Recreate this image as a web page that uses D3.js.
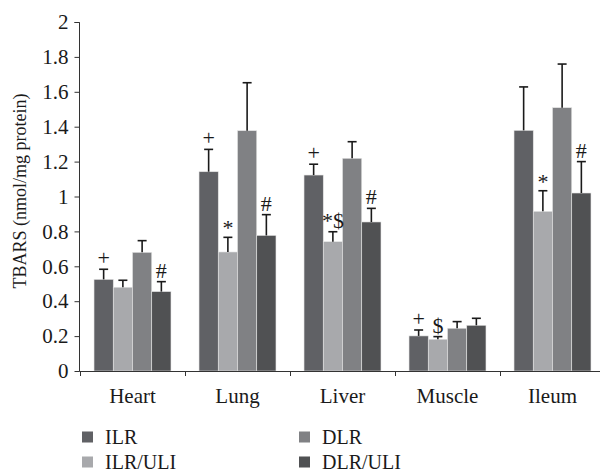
<!DOCTYPE html>
<html><head><meta charset="utf-8">
<script src="https://cdn.jsdelivr.net/npm/d3@7"></script>
<style>body{margin:0;background:#fff;} text{font-family:"Liberation Serif","DejaVu Serif",serif;fill:#1a1a1a;}</style>
</head><body>
<svg id="chart" width="600" height="475"></svg>
<script>
const categories = ["Heart","Lung","Liver","Muscle","Ileum"];
const series = ["ILR","ILR/ULI","DLR","DLR/ULI"];
const ilr      = [0.525, 1.142, 1.123, 0.201, 1.379];
const ilrUli   = [0.480, 0.682, 0.741, 0.182, 0.915];
const dlr      = [0.680, 1.377, 1.219, 0.245, 1.509];
const dlrUli   = [0.455, 0.777, 0.854, 0.262, 1.020];
const ilrErr    = [0.058, 0.128, 0.062, 0.034, 0.249];
const ilrUliErr = [0.040, 0.084, 0.057, 0.015, 0.118];
const dlrErr    = [0.067, 0.275, 0.095, 0.038, 0.250];
const dlrUliErr = [0.057, 0.119, 0.078, 0.040, 0.180];
const ilrMark    = ["+","+","+","+",""];
const ilrUliMark = ["","*","*$","$","*"];
const dlrMark    = ["","","","",""];
const dlrUliMark = ["#","#","#","","#"];
const yTicks = [0,0.2,0.4,0.6,0.8,1,1.2,1.4,1.6,1.8,2];
const yTickLabels = ["0","0.2","0.4","0.6","0.8","1","1.2","1.4","1.6","1.8","2"];
const yLabel = "TBARS (nmol/mg protein)";
const colors = ["#606165","#a8a9ac","#808184","#505153"];

const values = [ilr, ilrUli, dlr, dlrUli];
const errs = [ilrErr, ilrUliErr, dlrErr, dlrUliErr];
const marks = [ilrMark, ilrUliMark, dlrMark, dlrUliMark];

const svg = d3.select("#chart");
const x0 = d3.scaleBand().domain(categories).range([80,605]).paddingInner(0.267).paddingOuter(0.1335);
const x1 = d3.scaleBand().domain(series).range([0, x0.bandwidth()]);
const y = d3.scaleLinear().domain([0,2]).range([371,22]);
const color = d3.scaleOrdinal().domain(series).range(colors);

const data = [];
categories.forEach((c,i)=>series.forEach((s,j)=>data.push({c,s,v:values[j][i],e:errs[j][i],m:marks[j][i]})));

// bars
svg.append("g").selectAll("rect").data(data).join("rect")
  .attr("x", d=>x0(d.c)+x1(d.s))
  .attr("y", d=>y(d.v))
  .attr("width", x1.bandwidth())
  .attr("height", d=>y(0)-y(d.v))
  .attr("fill", d=>color(d.s))
  .attr("stroke","#e4e4e4").attr("stroke-width",0.6);

// error bars
const eg = svg.append("g").attr("stroke","#1a1a1a").attr("stroke-width",1.6);
data.forEach(d=>{
  const cx = x0(d.c)+x1(d.s)+x1.bandwidth()/2;
  eg.append("line").attr("x1",cx).attr("x2",cx).attr("y1",y(d.v)).attr("y2",y(d.v+d.e));
  eg.append("line").attr("x1",cx-4.5).attr("x2",cx+4.5).attr("y1",y(d.v+d.e)).attr("y2",y(d.v+d.e));
});

// significance marks
svg.append("g").selectAll("text").data(data.filter(d=>d.m)).join("text")
  .attr("x", d=>x0(d.c)+x1(d.s)+x1.bandwidth()/2)
  .attr("y", d=>y(d.v+d.e)-(d.m.includes("*")&&!d.m.includes("$")?2:4))
  .attr("text-anchor","middle")
  .attr("font-size", 22)
  .text(d=>d.m);

// y axis
const yAxis = svg.append("g").attr("transform","translate(79.5,0)")
  .call(d3.axisLeft(y).tickValues(yTicks).tickSize(5).tickPadding(6).tickFormat((d,i)=>yTickLabels[i]));
yAxis.selectAll("text").attr("font-size",21).style("font-family","Liberation Serif").attr("fill","#1a1a1a");
yAxis.selectAll("path,line").attr("stroke","#333");
yAxis.select(".domain").attr("d","M-5,22.5H0V371.5");

// x axis
const xg = svg.append("g");
xg.append("line").attr("x1",79.5).attr("x2",600).attr("y1",371.5).attr("y2",371.5).attr("stroke","#333");
const bounds = categories.map(c=>x0(c)-x0.step()*x0.paddingInner()/2);
xg.selectAll("line.tk").data(bounds).join("line").attr("class","tk")
  .attr("x1",d=>Math.round(d)+0.5).attr("x2",d=>Math.round(d)+0.5).attr("y1",371.5).attr("y2",376).attr("stroke","#333");
xg.selectAll("text").data(categories).join("text")
  .attr("x",c=>x0(c)+x0.bandwidth()/2).attr("y",403)
  .attr("text-anchor","middle").attr("font-size",21).text(c=>c);

// y label
svg.append("text").attr("transform","translate(26,191) rotate(-90)")
  .attr("text-anchor","middle").attr("font-size",18).text(yLabel);

// legend
const legPos = [[82,437],[82,462],[299,437],[299,462]];
const lg = svg.append("g").selectAll("g").data(series).join("g")
  .attr("transform",(s,i)=>`translate(${legPos[i][0]},${legPos[i][1]})`);
lg.append("rect").attr("x",0).attr("y",-5.5).attr("width",11).attr("height",11).attr("fill",s=>color(s));
lg.append("text").attr("x",23).attr("y",7).attr("font-size",20).text(s=>s);
</script>
</body></html>
